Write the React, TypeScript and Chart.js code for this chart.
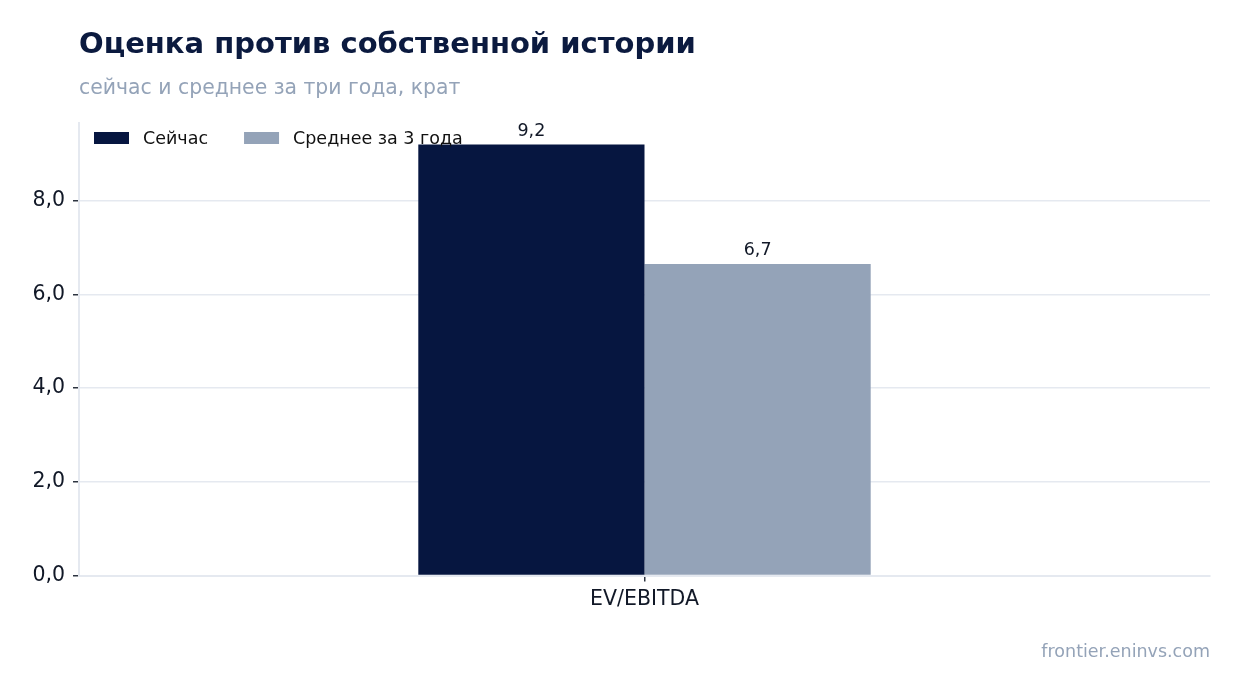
import React, { useEffect, useRef } from 'react';
import { Chart, registerables } from 'chart.js';

Chart.register(...registerables);

const categories = ['EV/EBITDA'];
const seriesNames = ['Сейчас', 'Среднее за 3 года'];
const nowValues = [9.2];
const avgValues = [6.65];
const valueLabels = [['9,2'], ['6,7']];
const yTicks = [0, 2, 4, 6, 8];

const NAVY = '#061640';
const GREY = '#94a3b8';
const LINE = '#e5e9f0';
const FONT = '"DejaVu Sans", sans-serif';

const fmt = (v: number) => v.toFixed(1).replace('.', ',');

const barLabels = {
  id: 'barLabels',
  afterDatasetsDraw(chart: any) {
    const ctx = chart.ctx;
    ctx.save();
    ctx.font = `17.5px ${FONT}`;
    ctx.fillStyle = '#111827';
    ctx.textAlign = 'center';
    ctx.textBaseline = 'alphabetic';
    chart.data.datasets.forEach((ds: any, i: number) => {
      chart.getDatasetMeta(i).data.forEach((bar: any, j: number) => {
        ctx.fillText(valueLabels[i][j], bar.x, bar.y - 9);
      });
    });
    ctx.restore();
  },
};

const innerLegend = {
  id: 'innerLegend',
  afterDraw(chart: any) {
    const ctx = chart.ctx;
    const area = chart.chartArea;
    ctx.save();
    ctx.font = `17.5px ${FONT}`;
    ctx.textBaseline = 'middle';
    ctx.textAlign = 'left';
    let x = area.left + 15;
    const y = area.top + 15;
    chart.data.datasets.forEach((ds: any) => {
      ctx.fillStyle = ds.backgroundColor;
      ctx.fillRect(x, y - 6, 35, 12);
      ctx.fillStyle = '#111';
      ctx.fillText(ds.label, x + 49, y + 1);
      x += 49 + ctx.measureText(ds.label).width + 36;
    });
    ctx.restore();
  },
};

export default function App() {
  const canvasRef = useRef<HTMLCanvasElement>(null);

  useEffect(() => {
    const ctx = canvasRef.current!.getContext('2d')!;
    const c = new Chart(ctx, {
      type: 'bar',
      data: {
        labels: categories,
        datasets: [
          { label: seriesNames[0], data: nowValues, backgroundColor: NAVY },
          { label: seriesNames[1], data: avgValues, backgroundColor: GREY },
        ],
      },
      options: {
        animation: false,
        responsive: false,
        devicePixelRatio: 1,
        layout: { padding: { top: 123, right: 31, left: 0, bottom: 0 } },
        datasets: { bar: { categoryPercentage: 0.4, barPercentage: 1, borderWidth: 0 } },
        plugins: {
          legend: { display: false },
          tooltip: { enabled: false },
          title: { display: false },
        },
        scales: {
          x: {
            offset: true,
            grid: {
              offset: false,
              drawOnChartArea: false,
              drawTicks: true,
              tickLength: 6,
              tickColor: '#2d3441',
              lineWidth: 1.5,
            },
            border: { color: LINE, width: 2 },
            ticks: { color: '#111827', font: { family: FONT, size: 20.5 }, padding: 6 },
            afterFit: (s: any) => {
              s.height = 117.5;
            },
          },
          y: {
            min: 0,
            max: 9.66,
            afterBuildTicks: (s: any) => {
              s.ticks = yTicks.map((v) => ({ value: v }));
            },
            grid: { color: LINE, lineWidth: 1.5, tickLength: 6, tickColor: '#2d3441' },
            border: { color: LINE, width: 2 },
            ticks: {
              color: '#111827',
              font: { family: FONT, size: 20.5 },
              padding: 8,
              callback: (v: any) => fmt(Number(v)),
            },
            afterFit: (s: any) => {
              s.width = 79;
            },
          },
        },
      },
      plugins: [barLabels, innerLegend],
    });
    return () => c.destroy();
  }, []);

  return (
    <div style={{ position: 'fixed', left: 0, top: 0, width: 1241, height: 693, background: '#fff', fontFamily: FONT }}>
      <canvas ref={canvasRef} width={1241} height={693} style={{ position: 'absolute', left: 0, top: 0 }} />
      <div style={{ position: 'absolute', left: 79, top: 26, fontSize: 29, fontWeight: 'bold', color: '#0b1a3f', whiteSpace: 'nowrap' }}>
        Оценка против собственной истории
      </div>
      <div style={{ position: 'absolute', left: 79, top: 75, fontSize: 20.4, color: GREY, whiteSpace: 'nowrap' }}>
        сейчас и среднее за три года, крат
      </div>
      <div style={{ position: 'absolute', right: 31, top: 641, fontSize: 17.5, color: GREY, whiteSpace: 'nowrap' }}>
        frontier.eninvs.com
      </div>
    </div>
  );
}
